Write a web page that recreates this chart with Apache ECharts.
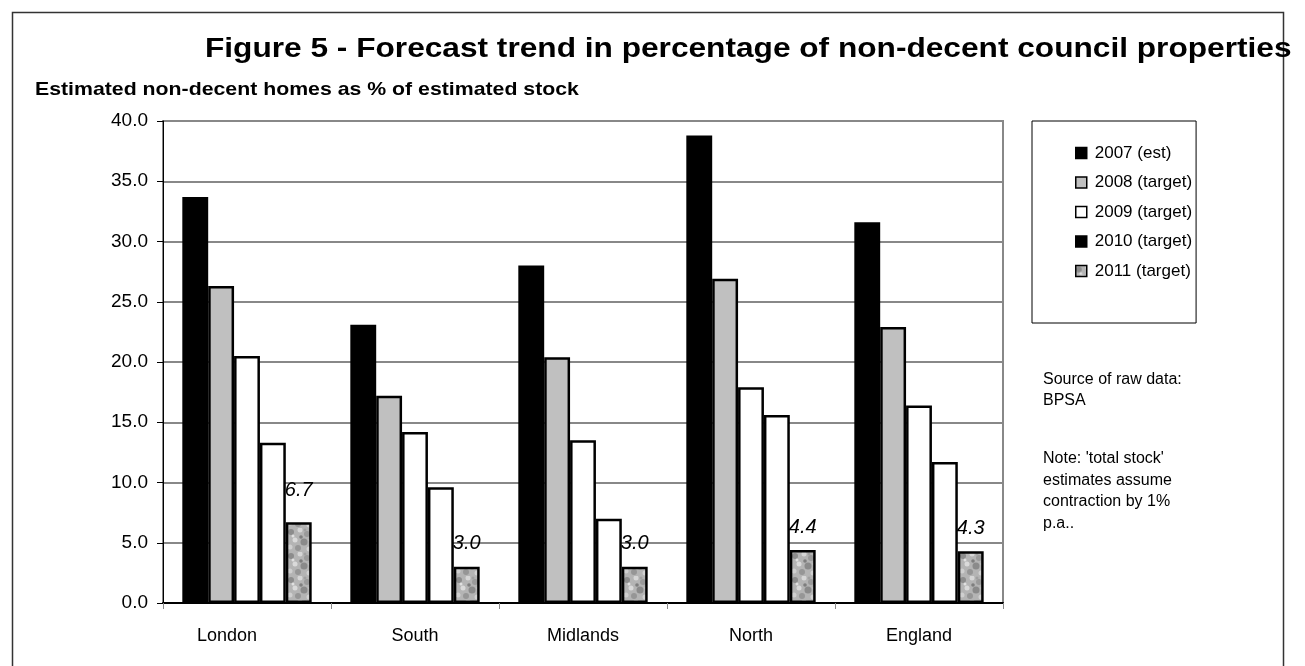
<!DOCTYPE html>
<html>
<head>
<meta charset="utf-8">
<style>
  html, body { margin: 0; padding: 0; background: #fff; }
  #chart { width: 1305px; height: 666px; }
</style>
<script src="https://cdn.jsdelivr.net/npm/echarts@6/dist/echarts.min.js"></script>
</head>
<body>
<div id="chart"></div>
<script>
// Regions along the x axis
const regions = ['London', 'South', 'Midlands', 'North', 'England'];

// Estimated non-decent homes as % of estimated stock, per year
const est2007 = [33.7, 23.1, 28.0, 38.8, 31.6];
const target2008 = [26.3, 17.2, 20.4, 26.9, 22.9];
const target2009 = [20.5, 14.2, 13.5, 17.9, 16.4];
const target2010 = [13.3, 9.6, 7.0, 15.6, 11.7];
const target2011 = [6.7, 3.0, 3.0, 4.4, 4.3];

const seriesNames = ['2007 (est)', '2008 (target)', '2009 (target)', '2010 (target)', '2011 (target)'];

// Mottled grey fill for the 2011 bars (fixed blob layout, tiled)
function mottledTile() {
  const c = document.createElement('canvas');
  c.width = 24; c.height = 24;
  const g = c.getContext('2d');
  g.fillStyle = '#b4b4b4';
  g.fillRect(0, 0, 24, 24);
  const blobs = [
    [3, 4, 3, '#8c8c8c'], [12, 2, 2.5, '#d6d6d6'], [19, 6, 3, '#9a9a9a'],
    [7, 12, 2.5, '#dadada'], [16, 14, 3.5, '#8a8a8a'], [2, 19, 2.5, '#cfcfcf'],
    [10, 20, 3, '#969696'], [21, 21, 2.5, '#d2d2d2'], [13, 9, 1.8, '#7e7e7e'],
    [22, 12, 1.6, '#c8c8c8'], [5, 8, 1.5, '#e0e0e0'], [17, 2, 1.5, '#a0a0a0']
  ];
  blobs.forEach(b => {
    g.fillStyle = b[3];
    g.beginPath(); g.arc(b[0], b[1], b[2], 0, Math.PI * 2); g.fill();
  });
  return c;
}
const mottled = { image: mottledTile(), repeat: 'repeat' };

const fills = ['#000000', '#c0c0c0', '#ffffff', '#ffffff', mottled];
const values = [est2007, target2008, target2009, target2010, target2011];

const FONT = 'Liberation Sans, Arial, sans-serif';

const chart = echarts.init(document.getElementById('chart'), null, { renderer: 'canvas' });

const valueLabel = {
  show: true,
  position: 'top',
  distance: 13,
  formatter: p => p.value.toFixed(1),
  fontFamily: FONT,
  fontSize: 20,
  fontStyle: 'italic',
  color: '#000'
};

const series = seriesNames.map((name, i) => ({
  name: name,
  type: 'bar',
  // the London 2011 value label sits a little higher than the others
  data: i === 4
    ? values[i].map((v, k) => k === 0 ? { value: v, label: { offset: [0, -9] } } : v)
    : values[i],
  barGap: '0%',
  barCategoryGap: '23%',
  z: i === 4 ? 1 : 2,
  itemStyle: { color: fills[i], borderColor: '#000', borderWidth: 2.5 },
  label: i === 4 ? valueLabel : { show: false }
}));

chart.setOption({
  animation: false,
  backgroundColor: '#fff',
  grid: {
    left: 163, top: 121, width: 840, height: 482,
    show: true, borderColor: '#888', borderWidth: 2, backgroundColor: 'transparent'
  },
  legend: {
    orient: 'vertical',
    left: 1032, top: 121,
    padding: [23, 4, 43, 43],
    itemGap: 11.5,
    itemWidth: 11, itemHeight: 11,
    icon: 'rect',
    borderColor: '#000', borderWidth: 1,
    textStyle: { fontFamily: FONT, fontSize: 17, color: '#000', lineHeight: 18, padding: [0, 0, 0, 3] },
    itemStyle: { borderColor: '#000', borderWidth: 1.5 },
    data: seriesNames.map((n, i) => i === 3 ? { name: n, itemStyle: { color: '#000' } } : { name: n })
  },
  xAxis: {
    type: 'category',
    data: regions,
    axisLine: { lineStyle: { color: '#000', width: 2 } },
    axisTick: { show: true, length: 6, lineStyle: { color: '#888', width: 1 } },
    axisLabel: {
      fontFamily: FONT, fontSize: 18, color: '#000', margin: 24,
      formatter: (v, idx) => idx === 0 ? '{first|' + v + '}' : v,
      rich: { first: { fontFamily: FONT, fontSize: 18, color: '#000', padding: [0, 40, 0, 0] } }
    }
  },
  yAxis: {
    type: 'value',
    min: 0, max: 40, interval: 5,
    axisLine: { show: true, lineStyle: { color: '#000', width: 1 } },
    axisTick: { show: true, length: 6, lineStyle: { color: '#000', width: 1 } },
    axisLabel: { fontFamily: FONT, fontSize: 19, color: '#000', margin: 15, formatter: v => v.toFixed(1) },
    splitLine: { lineStyle: { color: '#888', width: 2 } }
  },
  graphic: [
    { type: 'rect', left: 10, top: 10, z: -1, silent: true,
      shape: { width: 1271, height: 700 },
      style: { fill: 'none', stroke: '#333', lineWidth: 1.5 } },
    { type: 'text', x: 205, y: 35, scaleX: 1.13, originX: 0,
      style: { text: 'Figure 5 - Forecast trend in percentage of non-decent council properties',
               font: 'bold 28px ' + FONT, fill: '#000' } },
    { type: 'text', x: 35, y: 80, scaleX: 1.12, originX: 0,
      style: { text: 'Estimated non-decent homes as % of estimated stock',
               font: 'bold 19px ' + FONT, fill: '#000' } },
    { type: 'text', left: 1043, top: 369,
      style: { text: 'Source of raw data:\nBPSA', font: '16px ' + FONT, lineHeight: 21, fill: '#000' } },
    { type: 'text', left: 1043, top: 448,
      style: { text: "Note: 'total stock'\nestimates assume\ncontraction by 1%\np.a..", font: '16px ' + FONT, lineHeight: 21.5, fill: '#000' } }
  ],
  series: series
});
</script>
</body>
</html>
